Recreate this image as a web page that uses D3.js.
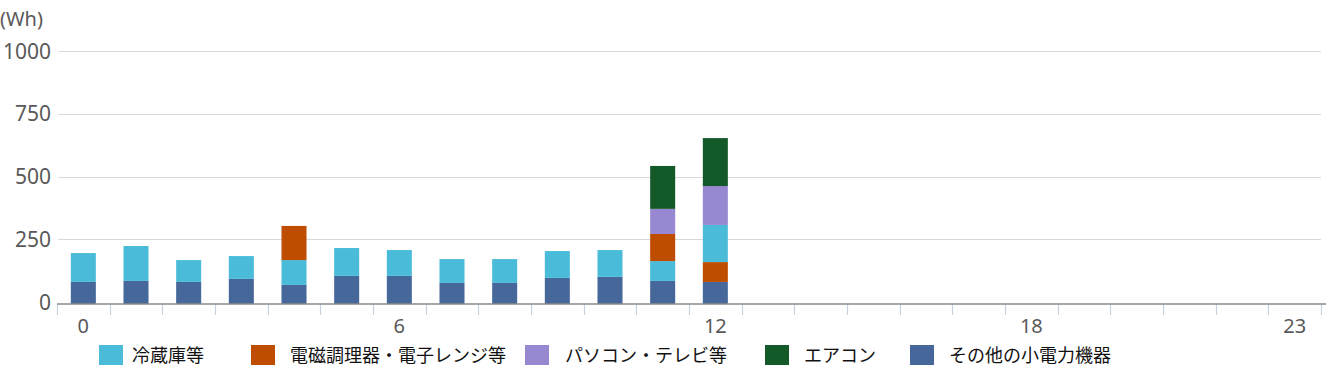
<!DOCTYPE html>
<html>
<head>
<meta charset="utf-8">
<script src="https://cdn.jsdelivr.net/npm/d3@7"></script>
<style>
  html, body { margin: 0; padding: 0; background: #ffffff; }
  svg { display: block; }
</style>
</head>
<body>
<svg id="chart" width="1331" height="380"></svg>
<script>
// ---- data ----
const hours = [0,1,2,3,4,5,6,7,8,9,10,11,12,13,14,15,16,17,18,19,20,21,22,23];
const xTickLabels = [0, 6, 12, 18, 23];
const yTickValues = [0, 250, 500, 750, 1000];
const unitLabel = "(Wh)";

const seriesKeys   = ["fridge", "ih", "pc", "ac", "other"];
const seriesNames  = ["冷蔵庫等", "電磁調理器・電子レンジ等", "パソコン・テレビ等", "エアコン", "その他の小電力機器"];

const fridge = [115,139,87,91,99,111,103,95,95,107,107,79,148,0,0,0,0,0,0,0,0,0,0,0];
const ih     = [0,0,0,0,136,0,0,0,0,0,0,108,79,0,0,0,0,0,0,0,0,0,0,0];
const pc     = [0,0,0,0,0,0,0,0,0,0,0,100,155,0,0,0,0,0,0,0,0,0,0,0];
const ac     = [0,0,0,0,0,0,0,0,0,0,0,171,191,0,0,0,0,0,0,0,0,0,0,0];
const other  = [80,84,80,92,68,104,104,76,76,96,100,84,80,0,0,0,0,0,0,0,0,0,0,0];

// stacking order (bottom -> top), with the one hour that differs in the source
const defaultStackOrder = ["other", "fridge", "ih", "pc", "ac"];
const stackOrderOverride = { 12: ["other", "ih", "fridge", "pc", "ac"] };

// ---- styles ----
const colors = { fridge: "#4abcda", ih: "#bf4d00", pc: "#9887d1", ac: "#145a29", other: "#456799" };
const valuesByKey = { fridge, ih, pc, ac, other };

const svg = d3.select("#chart");

const x = d3.scaleBand()
  .domain(hours)
  .range([57, 1321])
  .paddingInner(0.525)
  .paddingOuter(0.2625);

const y = d3.scaleLinear().domain([0, 1000]).range([302, 51]);

const numFont = "'Noto Sans', 'DejaVu Sans', sans-serif";
const jpFont = "'Noto Sans CJK JP', 'Noto Sans', sans-serif";

// gridlines
svg.append("g")
  .selectAll("line")
  .data(yTickValues.filter(v => v > 0))
  .join("line")
  .attr("x1", 58).attr("x2", 1321)
  .attr("y1", d => Math.round(y(d)) + 0.5).attr("y2", d => Math.round(y(d)) + 0.5)
  .attr("stroke", "#d9d9d9").attr("stroke-width", 1.2);

// y tick labels
svg.append("g")
  .selectAll("text")
  .data(yTickValues)
  .join("text")
  .attr("x", 51)
  .attr("y", d => y(d))
  .attr("dy", "0.36em")
  .attr("text-anchor", "end")
  .attr("font-family", numFont)
  .attr("font-size", 21)
  .attr("fill", "#595959")
  .text(d => d);

// unit label
svg.append("text")
  .attr("x", 0).attr("y", 26)
  .attr("font-family", numFont)
  .attr("font-size", 20)
  .attr("fill", "#595959")
  .text(unitLabel);

// bars
const stacked = [];
hours.forEach((h, i) => {
  const order = stackOrderOverride[h] || defaultStackOrder;
  let acc = 0;
  order.forEach(k => {
    const v = valuesByKey[k][i];
    if (v > 0) {
      stacked.push({ hour: h, key: k, y0: acc, y1: acc + v });
      acc += v;
    }
  });
});

svg.append("g")
  .selectAll("rect")
  .data(stacked)
  .join("rect")
  .attr("x", d => x(d.hour))
  .attr("width", x.bandwidth())
  .attr("y", d => y(d.y1))
  .attr("height", d => y(d.y0) - y(d.y1) + (d.y0 === 0 ? 2 : 0))
  .attr("fill", d => colors[d.key]);

// x axis
const axisY = y(0) + 2;
const boundaries = hours.map(h => x(h) - x.step() * x.paddingInner() / 2).concat([1321]);
svg.append("g")
  .selectAll("line")
  .data(boundaries)
  .join("line")
  .attr("x1", d => Math.round(d) + 0.5).attr("x2", d => Math.round(d) + 0.5)
  .attr("y1", axisY).attr("y2", axisY + 11)
  .attr("stroke", "#c6d1dd").attr("stroke-width", 1.2);

svg.append("line")
  .attr("x1", 57).attr("x2", 1326)
  .attr("y1", axisY).attr("y2", axisY)
  .attr("stroke", "#8a8a8a").attr("stroke-width", 1.6);

svg.append("g")
  .selectAll("text")
  .data(xTickLabels)
  .join("text")
  .attr("x", d => x(d) + x.bandwidth() / 2)
  .attr("y", 333)
  .attr("text-anchor", "middle")
  .attr("font-family", numFont)
  .attr("font-size", 20)
  .attr("fill", "#595959")
  .text(d => d);

// legend
const legendX = [99, 251, 525, 765, 910];
const legendTextOffset = [33, 39, 40, 39, 39];
const lg = svg.append("g")
  .selectAll("g")
  .data(seriesKeys)
  .join("g")
  .attr("transform", (d, i) => `translate(${legendX[i]},0)`);
lg.append("rect")
  .attr("x", 0).attr("y", 345)
  .attr("width", 24).attr("height", 20)
  .attr("fill", d => colors[d]);
lg.append("text")
  .attr("x", (d, i) => legendTextOffset[i])
  .attr("y", 356)
  .attr("dy", "0.36em")
  .attr("font-family", jpFont)
  .attr("font-size", 18)
  .attr("fill", "#111")
  .text((d, i) => seriesNames[i]);
</script>
</body>
</html>
